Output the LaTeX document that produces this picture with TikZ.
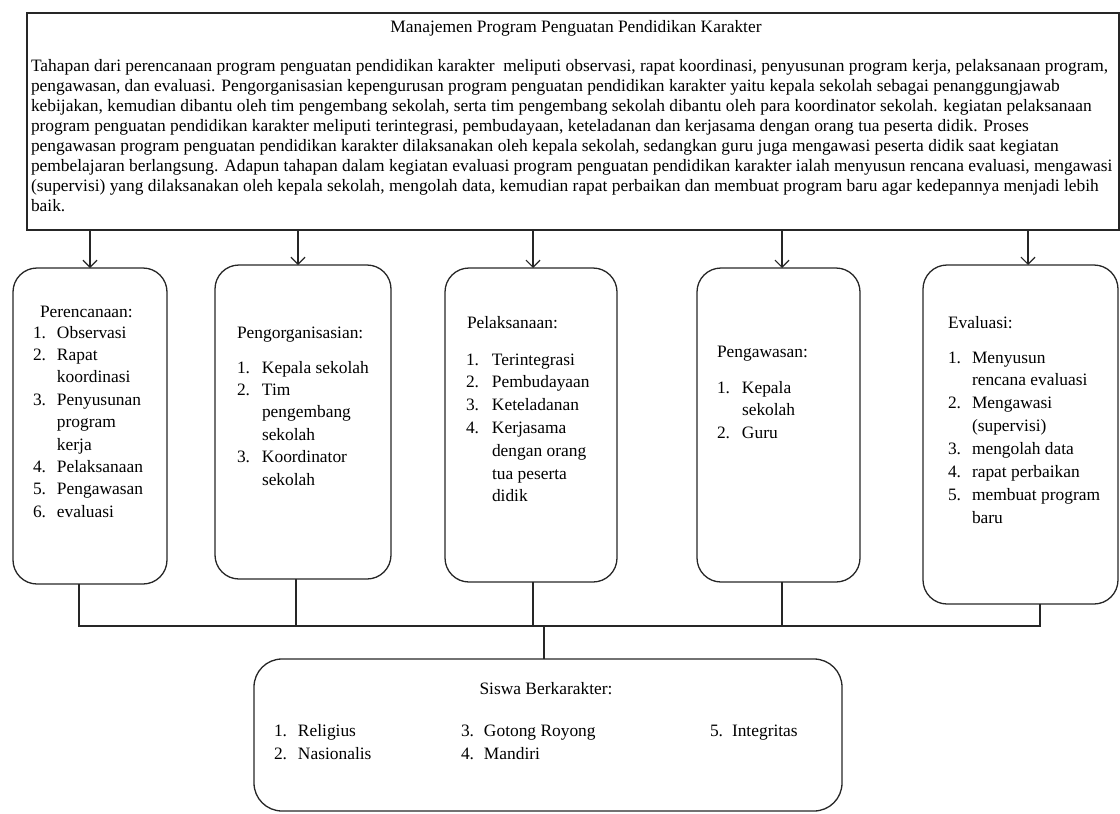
\documentclass[tikz,border=0pt]{standalone}
\usepackage{fontspec}
\setmainfont{Liberation Serif}
\usetikzlibrary{arrows.meta}
\newcommand\nb[2][24]{\makebox[#1pt][l]{#2}}
\begin{document}
\begin{tikzpicture}[x=1pt,y=-1pt,
  every node/.style={inner sep=0pt, outer sep=0pt},
  ln/.style={line width=1.2pt, draw=black!85},
  rbox/.style={draw=black!85, line width=1.3pt, rounded corners=24pt, rectangle},
  arr/.style={ln, -{Straight Barb[length=7pt,width=14pt]}},
  txt/.style={anchor=base west, font=\fontsize{17.4}{20}\selectfont},
  ttl/.style={anchor=base, font=\fontsize{17.4}{20}\selectfont},
]
\useasboundingbox (0,0) rectangle (1120,814);
% boxes
\node[draw=black!85, line width=1.3pt, rectangle, minimum width=1092pt, minimum height=217pt] (top) at (573,121.5) {};
\node[rbox, minimum width=154pt, minimum height=316pt] (b1) at (90,426) {};
\node[rbox, minimum width=176pt, minimum height=314pt] (b2) at (303,422) {};
\node[rbox, minimum width=172pt, minimum height=314pt] (b3) at (531,425) {};
\node[rbox, minimum width=163pt, minimum height=314pt] (b4) at (778.5,425) {};
\node[rbox, minimum width=195pt, minimum height=339pt] (b5) at (1020.5,434.5) {};
\node[rbox, rounded corners=28pt, minimum width=588pt, minimum height=152pt] (sb) at (548,735) {};
% arrows
\coordinate (a1) at (b1.north);
\coordinate (a2) at ([xshift=-5pt]b2.north);
\coordinate (a3) at ([xshift=2pt]b3.north);
\coordinate (a4) at ([xshift=3.5pt]b4.north);
\coordinate (a5) at ([xshift=7.5pt]b5.north);
\foreach \k in {1,...,5} \draw[arr] (a\k |- top.south) -- (a\k);
% bus
\coordinate (bus) at (548,626);
\coordinate (c1) at ([xshift=-11pt]b1.south);
\coordinate (c2) at ([xshift=-7pt]b2.south);
\coordinate (c3) at ([xshift=2pt]b3.south);
\coordinate (c4) at ([xshift=3.5pt]b4.south);
\coordinate (c5) at ([xshift=19.5pt]b5.south);
\coordinate (d) at ([xshift=-4pt]sb.north);
\draw[ln] (c1) |- (c5 |- bus) -- (c5);
\foreach \k in {2,3,4} \draw[ln] (c\k) -- (c\k |- bus);
\draw[ln] (d |- bus) -- (d);
% top text
\node[ttl] (title) at (576,32) {Manajemen Program Penguatan Pendidikan Karakter};
\foreach \t [count=\i] in {
 {Tahapan dari perencanaan program penguatan pendidikan karakter\ \ meliputi observasi, rapat koordinasi, penyusunan program kerja, pelaksanaan program,},
 {pengawasan, dan evaluasi. Pengorganisasian kepengurusan program penguatan pendidikan karakter yaitu kepala sekolah sebagai penanggungjawab},
 {kebijakan, kemudian dibantu oleh tim pengembang sekolah, serta tim pengembang sekolah dibantu oleh para koordinator sekolah. kegiatan pelaksanaan},
 {program penguatan pendidikan karakter meliputi terintegrasi, pembudayaan, keteladanan dan kerjasama dengan orang tua peserta didik. Proses},
 {pengawasan program penguatan pendidikan karakter dilaksanakan oleh kepala sekolah, sedangkan guru juga mengawasi peserta didik saat kegiatan},
 {pembelajaran berlangsung. Adapun tahapan dalam kegiatan evaluasi program penguatan pendidikan karakter ialah menyusun rencana evaluasi, mengawasi},
 {(supervisi) yang dilaksanakan oleh kepala sekolah, mengolah data, kemudian rapat perbaikan dan membuat program baru agar kedepannya menjadi lebih},
 {baik.}}
 \node[txt] (p\i) at (31,{71+20*(\i-1)}) {\t};
% box 1
\node[txt] (h1) at (40,317) {Perencanaan:};
\foreach \t [count=\i] in {{\nb{1.}Observasi},{\nb{2.}Rapat},{\nb{}koordinasi},{\nb{3.}Penyusunan},{\nb{}program},{\nb{}kerja},{\nb{4.}Pelaksanaan},{\nb{5.}Pengawasan},{\nb{6.}evaluasi}}
 \node[txt] (l1-\i) at (33,{338+22.4*(\i-1)}) {\t};
% box 2
\node[txt] (h2) at (237,338) {Pengorganisasian:};
\foreach \t [count=\i] in {{\nb[25]{1.}Kepala sekolah},{\nb[25]{2.}Tim},{\nb[25]{}pengembang},{\nb[25]{}sekolah},{\nb[25]{3.}Koordinator},{\nb[25]{}sekolah}}
 \node[txt] (l2-\i) at (237,{373+22.4*(\i-1)}) {\t};
% box 3
\node[txt] (h3) at (467,328) {Pelaksanaan:};
\foreach \t [count=\i] in {{\nb[26]{1.}Terintegrasi},{\nb[26]{2.}Pembudayaan},{\nb[26]{3.}Keteladanan},{\nb[26]{4.}Kerjasama},{\nb[26]{}dengan orang},{\nb[26]{}tua peserta},{\nb[26]{}didik}}
 \node[txt] (l3-\i) at (466,{365+22.8*(\i-1)}) {\t};
% box 4
\node[txt] (h4) at (717,357) {Pengawasan:};
\foreach \t [count=\i] in {{\nb[25]{1.}Kepala},{\nb[25]{}sekolah},{\nb[25]{2.}Guru}}
 \node[txt] (l4-\i) at (717,{393+22.6*(\i-1)}) {\t};
% box 5
\node[txt] (h5) at (948,328) {Evaluasi:};
\foreach \t [count=\i] in {{\nb{1.}Menyusun},{\nb{}rencana evaluasi},{\nb{2.}Mengawasi},{\nb{}(supervisi)},{\nb{3.}mengolah data},{\nb{4.}rapat perbaikan},{\nb{5.}membuat program},{\nb{}baru}}
 \node[txt] (l5-\i) at (948,{363+22.9*(\i-1)}) {\t};
% bottom box
\node[ttl] (h6) at (546,694) {Siswa Berkarakter:};
\node[txt] (s1) at (274,736) {\nb{1.}Religius};
\node[txt] (s2) at (274,759) {\nb{2.}Nasionalis};
\node[txt] (s3) at (461,736) {\nb[23]{3.}Gotong Royong};
\node[txt] (s4) at (461,759) {\nb[23]{4.}Mandiri};
\node[txt] (s5) at (710,736) {\nb[22]{5.}Integritas};
\end{tikzpicture}
\end{document}
